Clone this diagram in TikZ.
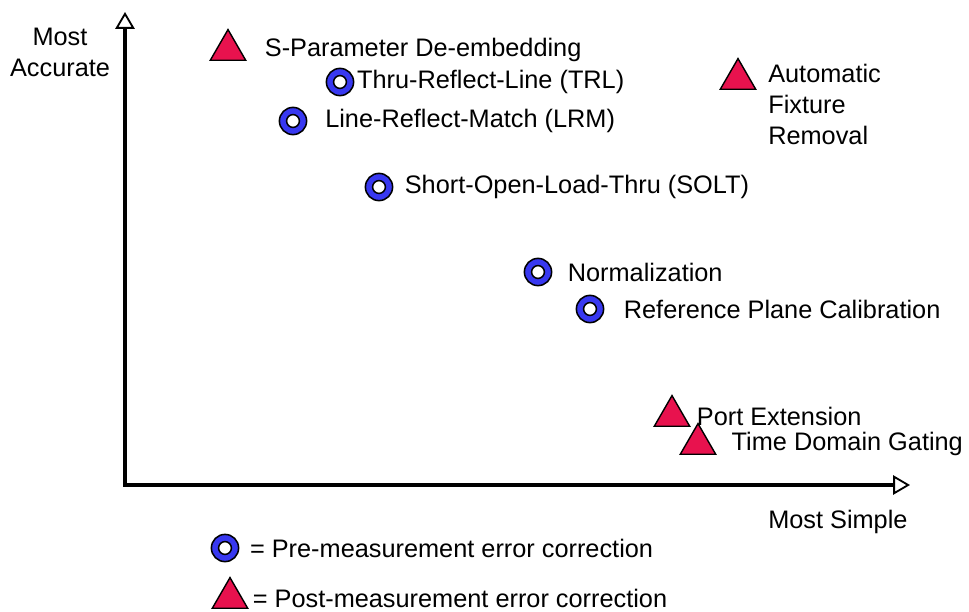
\documentclass[tikz,border=0pt]{standalone}
\usepackage{fontspec}
\setmainfont{Liberation Sans}
\usepackage{tikz}
\usetikzlibrary{shapes.geometric, arrows.meta, positioning}
\definecolor{preblue}{HTML}{3838F0}
\definecolor{postred}{HTML}{E8124E}

\begin{document}
\begin{tikzpicture}[
    x=0.025cm, y=-0.025cm,
    font=\fontsize{18}{22}\selectfont,
    axis/.style={draw=black, line width=2.6pt,
        {Triangle[open, length=0.42cm, width=0.48cm, line width=1.3pt]}-{Triangle[open, length=0.42cm, width=0.48cm, line width=1.3pt]}},
    premark/.style={circle, draw=black, line width=1.1pt, fill=preblue, minimum size=0.68cm, inner sep=0pt,
        path picture={\draw[line width=1.1pt, fill=white] (path picture bounding box.center) circle (0.16cm);}},
    postmark/.style={regular polygon, regular polygon sides=3, draw=black, line width=1pt, fill=postred, minimum size=1.02cm, inner sep=0pt},
    lbl/.style={inner sep=0pt, align=left, text=black},
]
    \useasboundingbox (0,0) rectangle (969,612);

    % axes
    \coordinate (origin) at (125,485);
    \coordinate (ytip) at (125,12);
    \coordinate (xtip) at (910,485);
    \draw[axis] (ytip) -- (origin) -- (xtip);
    \node[lbl, align=center] (yname) at (60,52) {Most\\Accurate};
    \node[lbl, anchor=west] (xname) at (768,522) {Most Simple};

    % methods
    \node[postmark] (sparm) at (228,50) {};
    \node[lbl, right=0.6cm of sparm.east] (sparmtxt) {S-Parameter De-embedding};
    \node[premark] (trl) at (340,82) {};
    \node[lbl, right=0.06cm of trl] (trltxt) {Thru-Reflect-Line (TRL)};
    \node[premark] (lrm) at (293,121) {};
    \node[lbl, right=0.44cm of lrm] (lrmtxt) {Line-Reflect-Match (LRM)};
    \node[premark] (solt) at (379,187) {};
    \node[lbl, right=0.28cm of solt] (solttxt) {Short-Open-Load-Thru (SOLT)};
    \node[premark] (norm) at (538,272) {};
    \node[lbl, right=0.38cm of norm] (normtxt) {Normalization};
    \node[premark] (refpl) at (590,309) {};
    \node[lbl, right=0.48cm of refpl] (refpltxt) {Reference Plane Calibration};
    \node[postmark] (afr) at (738,79) {};
    \node[lbl, anchor=north west] (afrtxt) at (768,64) {Automatic\\Fixture\\Removal};
    \node[postmark] (portx) at (672,416) {};
    \node[lbl, right=0.3cm of portx.east] (portxtxt) {Port Extension};
    \node[postmark] (tdg) at (698,444) {};
    \node[lbl, right=0.52cm of tdg.east] (tdgtxt) {Time Domain Gating};

    % legend
    \node[premark] (legpre) at (225,548) {};
    \node[lbl, right=0.26cm of legpre] (legpretxt) {= Pre-measurement error correction};
    \node[postmark] (legpost) at (230,598) {};
    \node[lbl, right=0.25cm of legpost.east] (legposttxt) {= Post-measurement error correction};
\end{tikzpicture}
\end{document}
